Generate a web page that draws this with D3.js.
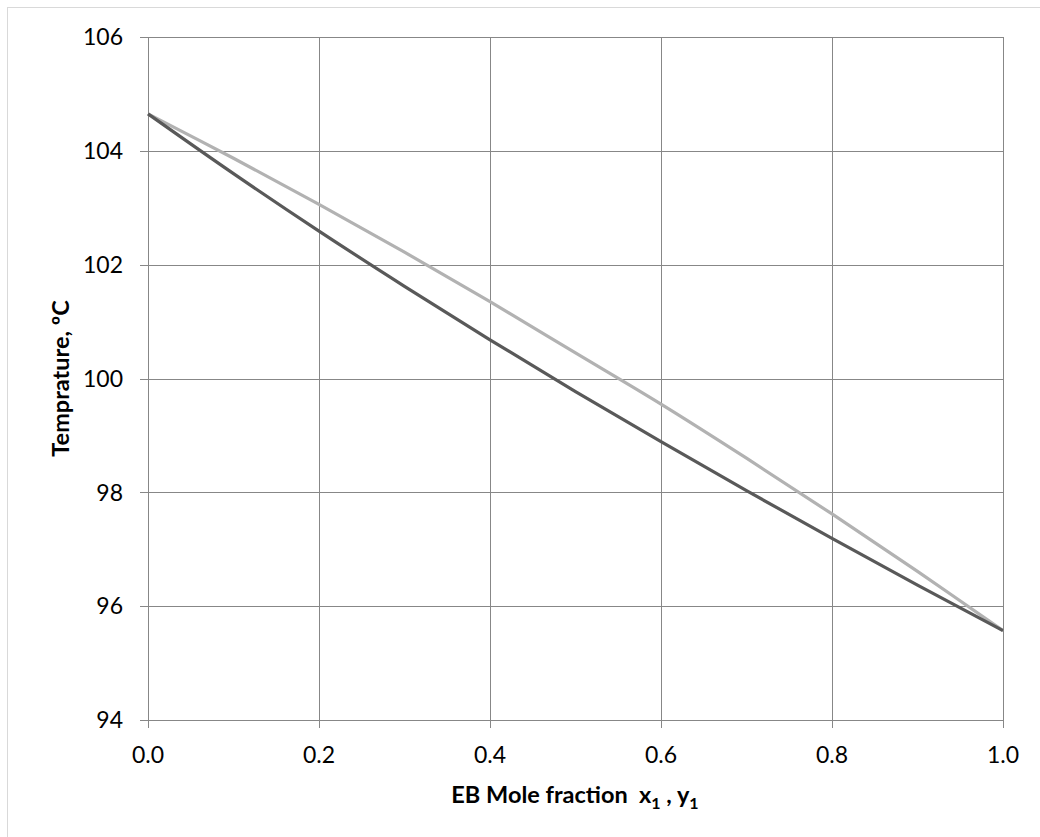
<!DOCTYPE html>
<html>
<head>
<meta charset="utf-8">
<script src="https://cdn.jsdelivr.net/npm/d3@7"></script>
<style>
  body { margin: 0; background: #fff; }
  svg { display: block; font-family: Lato, "Open Sans", sans-serif; }
</style>
</head>
<body>
<div id="chart"></div>
<script>
// mole fractions (x for liquid, y for vapour)
const fractions = [0.0, 0.1, 0.2, 0.3, 0.4, 0.5, 0.6, 0.7, 0.8, 0.9, 1.0];
// bubble point curve T(x1), dark line
const bubbleT = [104.65, 103.60, 102.59, 101.62, 100.68, 99.77, 98.89, 98.03, 97.19, 96.37, 95.57];
// dew point curve T(y1), light line
const dewT = [104.65, 103.87, 103.06, 102.22, 101.35, 100.45, 99.55, 98.60, 97.62, 96.61, 95.57];

const xTicks = [0.0, 0.2, 0.4, 0.6, 0.8, 1.0];
const yTicks = [94, 96, 98, 100, 102, 104, 106];

const width = 1040, height = 837;
const plotLeft = 148, plotRight = 1003, plotTop = 37, plotBottom = 720;

const svg = d3.select("#chart")
  .append("svg")
  .attr("width", width)
  .attr("height", height);

// chart frame (runs off the right and bottom edge)
svg.append("rect")
  .attr("x", 7.5).attr("y", 7.5)
  .attr("width", 1100).attr("height", 900)
  .attr("fill", "none")
  .attr("stroke", "#d9d9d9");

const x = d3.scaleLinear().domain([0, 1]).range([plotLeft, plotRight]);
const y = d3.scaleLinear().domain([94, 106]).range([plotBottom, plotTop]);

// gridlines + tick marks
svg.append("g")
  .selectAll("line")
  .data(yTicks)
  .enter()
  .append("line")
  .attr("x1", plotLeft - 8).attr("x2", plotRight)
  .attr("y1", d => Math.round(y(d)) + 0.5)
  .attr("y2", d => Math.round(y(d)) + 0.5)
  .attr("stroke", "#878787")
  .attr("stroke-width", 1);

svg.append("g")
  .selectAll("line")
  .data(xTicks)
  .enter()
  .append("line")
  .attr("y1", plotTop).attr("y2", plotBottom + 8)
  .attr("x1", d => Math.round(x(d)) + 0.5)
  .attr("x2", d => Math.round(x(d)) + 0.5)
  .attr("stroke", "#878787")
  .attr("stroke-width", 1);

// tick labels
svg.append("g")
  .selectAll("text")
  .data(yTicks)
  .enter()
  .append("text")
  .attr("x", plotLeft - 25)
  .attr("y", d => y(d))
  .attr("dy", "0.36em")
  .attr("text-anchor", "end")
  .attr("font-size", 23)
  .attr("fill", "#000")
  .text(d => d);

svg.append("g")
  .selectAll("text")
  .data(xTicks)
  .enter()
  .append("text")
  .attr("x", d => x(d))
  .attr("y", 763)
  .attr("text-anchor", "middle")
  .attr("font-size", 23)
  .attr("fill", "#000")
  .text(d => d3.format(".1f")(d));

// curves
const line = (vals) => d3.line()
  .x((d, i) => x(fractions[i]))
  .y(d => y(d))
  .curve(d3.curveCatmullRom)(vals);

svg.append("path")
  .attr("d", line(dewT))
  .attr("fill", "none")
  .attr("stroke", "#b2b2b2")
  .attr("stroke-width", 3.2);

svg.append("path")
  .attr("d", line(bubbleT))
  .attr("fill", "none")
  .attr("stroke", "#595959")
  .attr("stroke-width", 3.2);

// axis titles
svg.append("text")
  .attr("transform", "translate(69," + ((plotTop + plotBottom) / 2) + ") rotate(-90)")
  .attr("text-anchor", "middle")
  .attr("font-size", 23.5)
  .attr("font-weight", "bold")
  .text("Temprature, ºC");

const xt = svg.append("text")
  .attr("x", 575)
  .attr("y", 803)
  .attr("text-anchor", "middle")
  .attr("font-size", 23.5)
  .attr("font-weight", "bold")
  .attr("xml:space", "preserve");
xt.append("tspan").text("EB Mole fraction  x");
xt.append("tspan").attr("font-size", 16).attr("dy", 6).text("1");
xt.append("tspan").attr("dy", -6).text(" , y");
xt.append("tspan").attr("font-size", 16).attr("dy", 6).text("1");
</script>
</body>
</html>
